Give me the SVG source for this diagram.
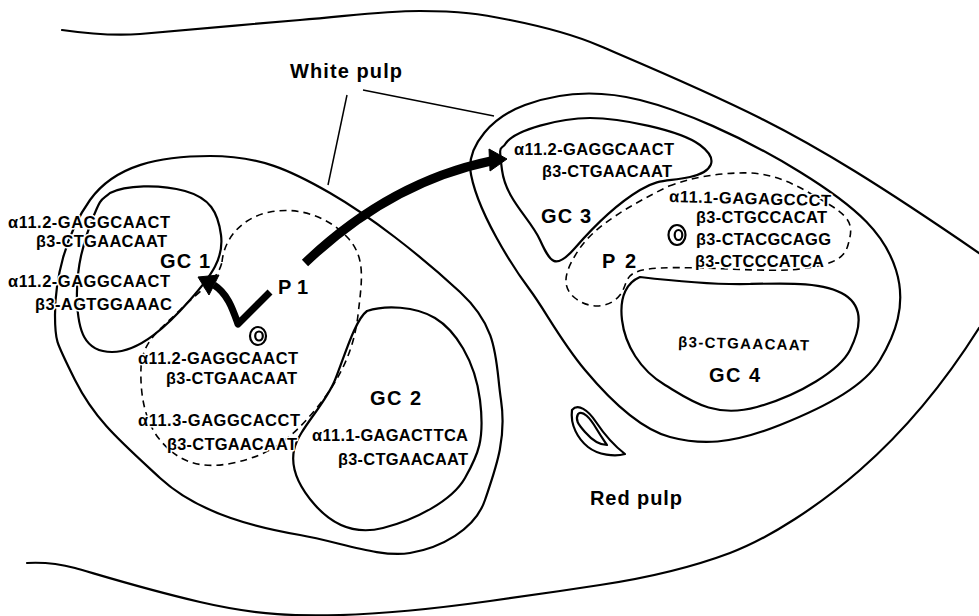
<svg xmlns="http://www.w3.org/2000/svg" width="979" height="616" viewBox="0 0 979 616">
  <style>
    .line { fill: none; stroke: #000; stroke-width: 2.2; stroke-linecap: round; stroke-linejoin: round; }
    .dash { fill: none; stroke: #000; stroke-width: 1.6; stroke-dasharray: 7 5; }
    .lead { fill: none; stroke: #000; stroke-width: 1.5; }
    .thick { fill: none; stroke: #000; stroke-linecap: butt; stroke-linejoin: round; }
    .head { fill: #000; stroke: #000; stroke-width: 1; stroke-linejoin: round; }
    text { font-family: "Liberation Sans", Arial, sans-serif; font-weight: bold; fill: #000;
           stroke: #fff; stroke-width: 3; paint-order: stroke; stroke-linejoin: round; }
    .seq { font-size: 16.5px; }
    .seqs { font-size: 15px; }
    .gc { font-size: 20px; }
    .lbl { font-size: 20px; }
  </style>

  <!-- spleen section outline -->
  <g id="capsule">
    <path class="line" d="M62,30 C90,34 115,36 140,34 S250,24 300,20 S380,11 420,11 S480,14 510,20 S570,33 600,46 S700,88 760,118 S880,185 979,253"/>
    <path class="line" d="M27,563 C45,562 60,564 75,568 S140,588 200,602 S300,616 340,615 S440,608 490,601 S560,591 600,585 S690,568 730,553 S820,505 860,470 S940,390 979,328"/>
  </g>

  <!-- left white pulp region -->
  <g id="white-pulp-left">
    <path class="line" d="M55,315 C55,280 65,235 90,200 S160,156 210,156 S290,170 330,193 S420,255 460,292 S495,360 501,400 S495,470 485,500 S440,548 410,553 S340,542 300,535 S200,515 160,478 S95,420 75,380 S55,340 55,315 Z"/>
  </g>

  <!-- right white pulp region -->
  <g id="white-pulp-right">
    <path class="line" d="M470,168 C470,145 490,118 525,105 S600,90 640,100 S740,135 800,172 S885,235 896,270 S895,335 880,360 S830,405 780,425 S700,445 670,437 S610,400 585,370 S545,310 530,290 S475,210 470,168 Z"/>
  </g>

  <!-- vessel in red pulp -->
  <g id="vessel">
    <path class="line" stroke-width="1.8" d="M572,410 C578,403 588,410 596,422 S612,444 625,454 C615,457 598,455 588,447 S570,425 572,410 Z"/>
    <path class="line" stroke-width="1.6" d="M578,414 C583,410 590,418 596,428 S605,442 607,445 C600,445 592,440 585,432 S575,420 578,414 Z"/>
  </g>

  <g id="gc1">
    <path class="line" d="M110,193 C125,185 160,184 185,191 S218,212 221,235 S212,275 190,300 S140,352 112,352 S78,330 77,300 S82,245 92,220 S101,201 110,193 Z"/>
  </g>

  <g id="p1">
    <path class="dash" d="M222,262 C224,240 240,218 270,212 S330,218 348,238 S362,280 358,315 S340,380 315,410 S270,455 233,463 S175,458 160,440 S140,395 141,368 S160,330 180,310 S218,280 222,262 Z"/>
    <ellipse class="line" cx="258" cy="336" rx="8" ry="9"/>
    <ellipse class="line" cx="259" cy="336" rx="3.8" ry="4.5"/>
  </g>

  <g id="gc2">
    <path class="line" d="M367,311 C385,305 415,306 435,318 S475,360 480,400 S478,455 465,478 S415,520 383,528 S330,522 315,505 S290,470 294,450 S325,405 335,380 S355,320 367,311 Z"/>
  </g>

  <g id="gc3">
    <path class="line" d="M506,143 C515,130 560,118 590,118 S680,130 700,145 S712,172 690,177 S660,178 640,190 S595,225 575,248 S550,262 540,240 S506,200 502,170 S501,152 506,143 Z"/>
  </g>

  <g id="p2">
    <path class="dash" d="M669,186 C690,178 720,172 750,173 S805,190 830,205 S852,230 848,245 S830,265 800,269 S700,266 660,268 S630,282 620,295 S590,310 575,298 S565,270 580,248 S630,205 669,186 Z"/>
    <ellipse class="line" cx="677" cy="235" rx="8.5" ry="10" stroke-width="2.5"/>
    <ellipse class="line" cx="678.5" cy="235" rx="3.8" ry="5" stroke-width="2.4"/>
  </g>

  <g id="gc4">
    <path class="line" d="M640,277 C665,280 710,285 750,284 S825,282 845,295 S860,330 850,350 S800,395 757,407 S690,400 665,385 S625,345 622,320 S628,282 640,277 Z"/>
  </g>

  <!-- migration arrows and label leaders -->
  <g id="connectors">
    <line class="lead" x1="347" y1="95" x2="328" y2="185"/>
    <line class="lead" x1="363" y1="90" x2="494" y2="116"/>
    <path class="thick" stroke-width="9" d="M305,263 C350,220 410,178 491,161"/>
    <polygon class="head" points="489,149 507,159 490,171"/>
    <path class="thick" stroke-width="7" d="M270,292 L238,324 C233,310 228,294 214,285"/>
    <polygon class="head" points="198,277 219,275 209,295"/>
  </g>

  <g id="labels">
    <text class="lbl" x="290" y="78" textLength="112">White pulp</text>
    <text class="lbl" x="590" y="505" textLength="92">Red pulp</text>

    <text class="seq" x="8" y="228" textLength="162">α11.2-GAGGCAACT</text>
    <text class="seq" x="36" y="247" textLength="131">β3-CTGAACAAT</text>
    <text class="gc" x="160" y="268" textLength="50">GC 1</text>
    <text class="seq" x="8" y="287" textLength="162">α11.2-GAGGCAACT</text>
    <text class="seq" x="35" y="310" textLength="137">β3-AGTGGAAAC</text>
    <text class="gc" x="278" y="294" textLength="30">P 1</text>

    <text class="seq" x="138" y="364" textLength="160">α11.2-GAGGCAACT</text>
    <text class="seq" x="166" y="384" textLength="131">β3-CTGAACAAT</text>
    <text class="seq" x="138" y="426" textLength="162">α11.3-GAGGCACCT</text>
    <text class="seq" x="167" y="450" textLength="130">β3-CTGAACAAT</text>

    <text class="gc" x="370" y="405" textLength="51">GC 2</text>
    <text class="seq" x="312" y="441" textLength="156">α11.1-GAGACTTCA</text>
    <text class="seq" x="338" y="465" textLength="130">β3-CTGAACAAT</text>

    <text class="seq" x="514" y="155" textLength="160">α11.2-GAGGCAACT</text>
    <text class="seq" x="542" y="177" textLength="130">β3-CTGAACAAT</text>
    <text class="gc" x="541" y="223" textLength="50">GC 3</text>

    <text class="seq" x="669" y="202" textLength="162" transform="rotate(1.5 669 202)">α11.1-GAGAGCCCT</text>
    <text class="seq" x="696" y="223" textLength="131">β3-CTGCCACAT</text>
    <text class="seq" x="696" y="245" textLength="135">β3-CTACGCAGG</text>
    <text class="seq" x="695" y="267" textLength="129">β3-CTCCCATCA</text>
    <text class="gc" x="602" y="268" textLength="34">P 2</text>

    <text class="seqs" x="678" y="347" textLength="131" transform="rotate(1.5 678 347)">β3-CTGAACAAT</text>
    <text class="gc" x="709" y="382" textLength="51">GC 4</text>
  </g>
</svg>
